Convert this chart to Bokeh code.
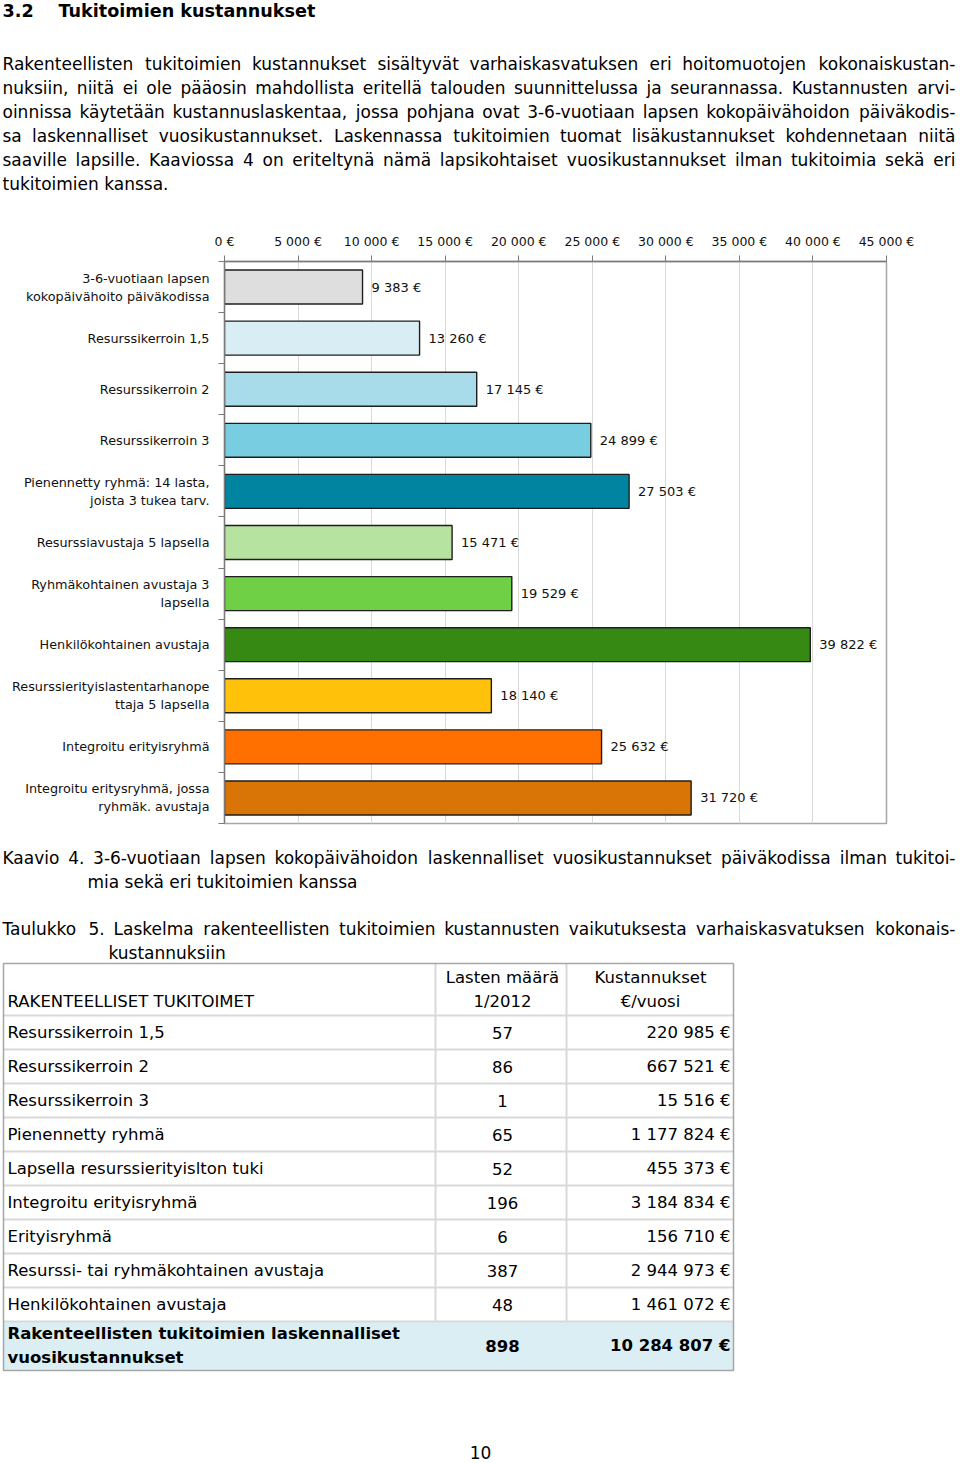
from bokeh.plotting import figure
from bokeh.models import Range1d, FixedTicker, ColumnDataSource
from bokeh.layouts import column
from bokeh.embed import file_html
from bokeh.resources import INLINE
from bokeh.core.properties import value

FONT = "DejaVu Sans"

# ---------------- data ----------------
heading_num = "3.2"
heading_title = "Tukitoimien kustannukset"
paragraph_lines = [
    "Rakenteellisten tukitoimien kustannukset sisältyvät varhaiskasvatuksen eri hoitomuotojen kokonaiskustan-",
    "nuksiin, niitä ei ole pääosin mahdollista eritellä talouden suunnittelussa ja seurannassa. Kustannusten arvi-",
    "oinnissa käytetään kustannuslaskentaa, jossa pohjana ovat 3-6-vuotiaan lapsen kokopäivähoidon päiväkodis-",
    "sa laskennalliset vuosikustannukset. Laskennassa tukitoimien tuomat lisäkustannukset kohdennetaan niitä",
    "saaville lapsille. Kaaviossa 4 on eriteltynä nämä lapsikohtaiset vuosikustannukset ilman tukitoimia sekä eri",
    "tukitoimien kanssa.",
]

chart_categories = [
    "3-6-vuotiaan lapsen\nkokopäivähoito päiväkodissa",
    "Resurssikerroin 1,5",
    "Resurssikerroin 2",
    "Resurssikerroin 3",
    "Pienennetty ryhmä: 14 lasta,\njoista 3 tukea tarv.",
    "Resurssiavustaja 5 lapsella",
    "Ryhmäkohtainen avustaja 3\nlapsella",
    "Henkilökohtainen avustaja",
    "Resurssierityislastentarhanope\nttaja 5 lapsella",
    "Integroitu erityisryhmä",
    "Integroitu eritysryhmä, jossa\nryhmäk. avustaja",
]
chart_values = [9383, 13260, 17145, 24899, 27503, 15471, 19529, 39822, 18140, 25632, 31720]
chart_colors = ["#dedede", "#d9eef4", "#a8dcea", "#78cde0", "#00849f", "#b7e3a0",
                "#6fcf45", "#368a14", "#ffc10a", "#ff7000", "#d97506"]
x_ticks = [0, 5000, 10000, 15000, 20000, 25000, 30000, 35000, 40000, 45000]
x_tick_labels = ["0 €", "5 000 €", "10 000 €", "15 000 €", "20 000 €", "25 000 €",
                 "30 000 €", "35 000 €", "40 000 €", "45 000 €"]

caption_lines = [
    "Kaavio 4. 3-6-vuotiaan lapsen kokopäivähoidon laskennalliset vuosikustannukset päiväkodissa ilman tukitoi-",
    "mia sekä eri tukitoimien kanssa",
]
table_caption_lines = [
    "Taulukko 5. Laskelma rakenteellisten tukitoimien kustannusten vaikutuksesta varhaiskasvatuksen kokonais-",
    "kustannuksiin",
]
table_header_name = "RAKENTEELLISET TUKITOIMET"
table_header_count = ["Lasten määrä", "1/2012"]
table_header_cost = ["Kustannukset", "€/vuosi"]
table_rows = [
    "Resurssikerroin 1,5",
    "Resurssikerroin 2",
    "Resurssikerroin 3",
    "Pienennetty ryhmä",
    "Lapsella resurssierityislton tuki",
    "Integroitu erityisryhmä",
    "Erityisryhmä",
    "Resurssi- tai ryhmäkohtainen avustaja",
    "Henkilökohtainen avustaja",
]
table_counts = [57, 86, 1, 65, 52, 196, 6, 387, 48]
table_costs = [220985, 667521, 15516, 1177824, 455373, 3184834, 156710, 2944973, 1461072]
total_label = ["Rakenteellisten tukitoimien laskennalliset", "vuosikustannukset"]
total_count = 898
total_cost = 10284807
page_number = "10"


def eur(v):
    return f"{v:,}".replace(",", " ") + " €"


# --------------- approximate DejaVu Sans advance widths (units / 2048) ---------------
W = dict(zip("abcdefghijklmnopqrstuvwxyz",
             [1255, 1300, 1126, 1300, 1260, 721, 1300, 1298, 569, 569, 1186, 569, 1995,
              1298, 1253, 1300, 1300, 842, 1067, 803, 1298, 1212, 1675, 1212, 1212, 1075]))
W.update(zip("ABCDEFGHIJKLMNOPQRSTUVWXYZ",
             [1401, 1405, 1430, 1577, 1294, 1178, 1587, 1540, 604, 604, 1343, 1141, 1767,
              1532, 1612, 1235, 1612, 1423, 1300, 1251, 1499, 1401, 2025, 1403, 1251, 1403]))
W.update({c: 1303 for c in "0123456789"})
W.update({"ä": 1255, "ö": 1253, "å": 1255, "Ä": 1401, "Ö": 1612, " ": 651, ".": 651,
          ",": 651, "-": 739, ":": 690, "/": 690, "€": 1303})


def tw(s, size):
    return sum(W.get(c, 1250) for c in s) / 2048.0 * size


def justify(lines, x1, y0, dy, size, indents):
    L = {"x": [], "y": [], "t": []}
    R = {"x": [], "y": [], "t": []}
    for i, line in enumerate(lines):
        y = y0 + i * dy
        xs = indents[i]
        words = line.split(" ")
        if i < len(lines) - 1 and len(words) > 1:
            widths = [tw(w, size) for w in words]
            gap = (x1 - xs - sum(widths)) / (len(words) - 1)
            x = xs
            for w, wd in zip(words[:-1], widths[:-1]):
                L["x"].append(x); L["y"].append(y); L["t"].append(w)
                x += wd + gap
            R["x"].append(x1); R["y"].append(y); R["t"].append(words[-1])
        else:
            L["x"].append(xs); L["y"].append(y); L["t"].append(line)
    return L, R


PAGE_W = 960


def text_fig(y0, y1):
    f = figure(width=PAGE_W, height=y1 - y0, x_range=Range1d(0, PAGE_W),
               y_range=Range1d(y1, y0), x_axis_type=None, y_axis_type=None,
               output_backend="svg", toolbar_location=None, min_border=0,
               frame_align=False)
    f.grid.visible = False
    f.outline_line_color = None
    return f


def put_text(f, d, size, align="left", bold=False, color="#000000"):
    if not d["t"]:
        return
    f.text(x="x", y="y", text="t", source=ColumnDataSource(d),
           text_font=value(FONT), text_font_size=value(f"{size}px"),
           text_align=align, text_baseline="middle", text_color=color,
           text_font_style="bold" if bold else "normal")


BODY = 17

# ---------------- top text ----------------
f1 = text_fig(0, 225)
put_text(f1, {"x": [2], "y": [10], "t": [heading_num]}, 17.6, bold=True)
put_text(f1, {"x": [58], "y": [10], "t": [heading_title]}, 17.6, bold=True)
L, R = justify(paragraph_lines, 955, 63, 24, BODY, [2] * len(paragraph_lines))
put_text(f1, L, BODY)
put_text(f1, R, BODY, align="right")

# ---------------- chart ----------------
n = len(chart_categories)
src = ColumnDataSource(dict(
    y=list(range(n)), v=chart_values, color=chart_colors,
    label=[eur(v) for v in chart_values],
))
p = figure(width=PAGE_W, height=607, x_range=Range1d(0, 45000), y_range=Range1d(n - 0.5, -0.5),
           x_axis_location="above", output_backend="svg", toolbar_location=None,
           min_border_left=224, min_border_right=74, min_border_top=36, min_border_bottom=9,
           frame_align=False)
p.hbar(y="y", right="v", left=0, height=0.665, fill_color="color",
       line_color="#1e1e1e", line_width=1.4, source=src)
p.text(x="v", y="y", text="label", source=src, x_offset=9,
       text_font=value(FONT), text_font_size=value("13px"),
       text_baseline="middle", text_align="left", text_color="#111111")

xt = FixedTicker(ticks=x_ticks)
xa = p.xaxis[0]
xa.ticker = xt
xa.major_label_overrides = dict(zip(x_ticks, x_tick_labels))
xa.major_tick_out = 6
xa.major_tick_in = 0
xa.minor_tick_out = 0
xa.axis_line_color = "#7a7a7a"
xa.axis_line_width = 1.3
xa.major_tick_line_color = "#7a7a7a"
xa.major_label_text_font = FONT
xa.major_label_text_font_size = "12.5px"
xa.major_label_text_color = "#111111"
xa.major_label_standoff = 7

ya = p.yaxis[0]
ya.ticker = FixedTicker(ticks=list(range(n)), minor_ticks=[i - 0.5 for i in range(n + 1)])
ya.major_label_overrides = {i: c for i, c in enumerate(chart_categories)}
ya.major_tick_out = 0
ya.major_tick_in = 0
ya.minor_tick_out = 6
ya.minor_tick_in = 0
ya.minor_tick_line_color = "#7a7a7a"
ya.axis_line_color = "#7a7a7a"
ya.axis_line_width = 1.3
ya.major_label_text_font = FONT
ya.major_label_text_font_size = "12.8px"
ya.major_label_text_color = "#111111"
ya.major_label_text_line_height = 1.2
ya.major_label_standoff = 9

p.xgrid.ticker = xt
p.xgrid.grid_line_color = "#d9d9d9"
p.ygrid.visible = False
p.outline_line_color = "#a6a6a6"
p.outline_line_width = 1.5

# ---------------- caption + table ----------------
f3 = text_fig(832, 1463)
L, R = justify(caption_lines, 955, 857, 24, BODY, [2, 87])
put_text(f3, L, BODY)
put_text(f3, R, BODY, align="right")
L, R = justify(table_caption_lines, 955, 928, 24, BODY, [2, 108])
put_text(f3, L, BODY)
put_text(f3, R, BODY, align="right")

TS = 16.5
tx0, c1, c2, tx1 = 3, 435, 566, 733
ty0, hb, rh = 963, 1015, 34
nr = len(table_rows)
body_end = hb + nr * rh
ty1 = body_end + 49

f3.quad(left=[tx0], right=[tx1], top=[body_end], bottom=[ty1],
        fill_color="#daeef3", line_color=None)
hy = [hb + k * rh for k in range(nr + 1)]
f3.segment(x0=[tx0] * len(hy), y0=hy, x1=[tx1] * len(hy), y1=hy,
           line_color="#d9d9d9", line_width=2)
f3.segment(x0=[c1, c2], y0=[ty0, ty0], x1=[c1, c2], y1=[body_end, body_end],
           line_color="#d9d9d9", line_width=2)
f3.quad(left=[tx0], right=[tx1], top=[ty0], bottom=[ty1],
        fill_color=None, line_color="#a6a6a6", line_width=1.5)

cx_count = 502
cx_cost_hdr = 650
rx_cost = 730
put_text(f3, {"x": [tx0 + 4], "y": [1001], "t": [table_header_name]}, TS)
put_text(f3, {"x": [cx_count, cx_count], "y": [977, 1001], "t": table_header_count}, TS, align="center")
put_text(f3, {"x": [cx_cost_hdr, cx_cost_hdr], "y": [977, 1001], "t": table_header_cost}, TS, align="center")

row_y = [hb + rh * k + rh / 2 for k in range(nr)]
put_text(f3, {"x": [tx0 + 4] * nr, "y": row_y, "t": table_rows}, TS)
put_text(f3, {"x": [cx_count] * nr, "y": row_y, "t": [str(c) for c in table_counts]}, TS, align="center")
put_text(f3, {"x": [rx_cost] * nr, "y": row_y, "t": [eur(c) for c in table_costs]}, TS, align="right")

put_text(f3, {"x": [tx0 + 4, tx0 + 4], "y": [body_end + 12, body_end + 36], "t": total_label}, TS, bold=True)
put_text(f3, {"x": [cx_count], "y": [body_end + 24], "t": [str(total_count)]}, TS, align="center", bold=True)
put_text(f3, {"x": [rx_cost], "y": [body_end + 24], "t": [eur(total_cost)]}, TS, align="right", bold=True)

put_text(f3, {"x": [480], "y": [1452], "t": [page_number]}, BODY, align="center")

layout = column(f1, p, f3, spacing=0)
open("out.html", "w").write(file_html(layout, INLINE))
